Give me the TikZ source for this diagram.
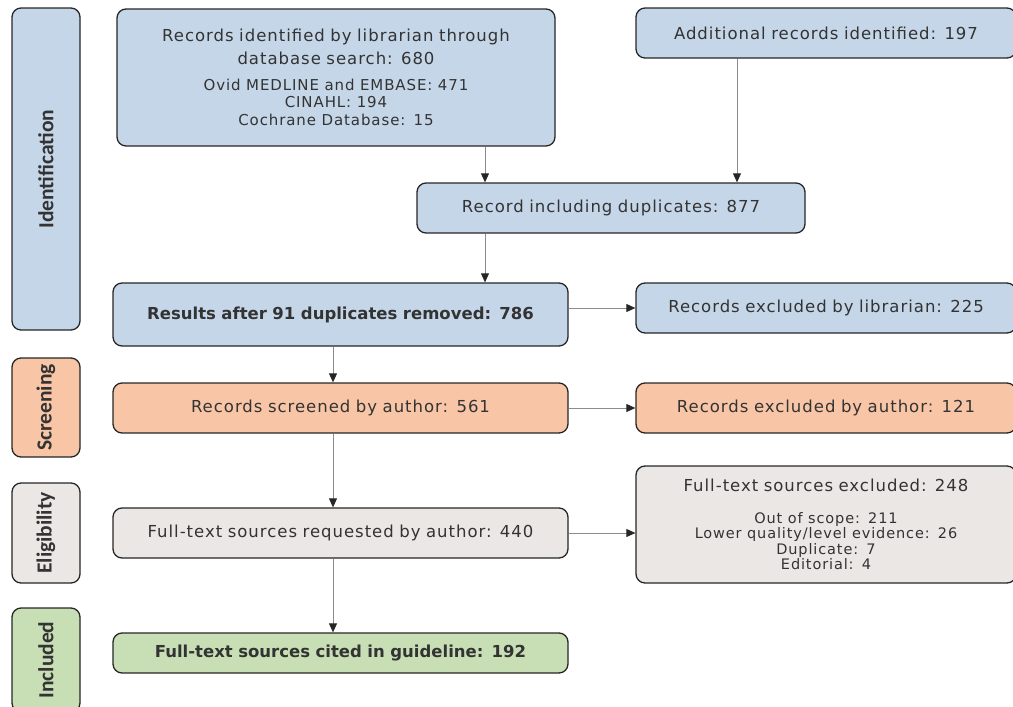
\documentclass[tikz,border=0pt]{standalone}
\usepackage{fontspec}
\setmainfont{DejaVu Sans}[WordSpace=1.5, LetterSpace=6, BoldFeatures={LetterSpace=0}]
\newfontfamily\tabfont{Carlito}
\usetikzlibrary{arrows.meta}
\definecolor{idblue}{HTML}{C5D6E9}
\definecolor{scrorange}{HTML}{F8C6A6}
\definecolor{elggray}{HTML}{EBE7E5}
\definecolor{incgreen}{HTML}{C8DFB5}
\begin{document}
\begin{tikzpicture}[x=1pt,y=-1pt,
    every node/.style={inner sep=0pt, text=black!80},
    box/.style={draw=black!85, line width=1.3pt, rounded corners=9pt, align=center, font=\fontsize{16.5}{23}\selectfont},
    tab/.style={draw=black!85, line width=1.3pt, rounded corners=9pt, rotate=90, minimum height=68pt, font=\tabfont\bfseries\fontsize{21.5}{23}\selectfont},
    flow/.style={draw=black!45, line width=0.8pt, -{Triangle[length=9pt, width=8pt, color=black!85]}}]
    % frame
    \useasboundingbox (0,0) rectangle (1013,707);
    \clip (0,0) rectangle (1013,707);
    % constants
    \def\mainX{340.5}
    \def\sideX{826}
    % phase tabs
    \node [tab, fill=idblue, minimum width=322pt] (ident) at (46,169) {Identification};
    \node [tab, fill=scrorange, minimum width=99pt] (scrn) at (46,407.5) {Screening};
    \node [tab, fill=elggray, minimum width=100pt] (elig) at (46,533) {Eligibility};
    \node [tab, fill=incgreen, minimum width=104pt] (incl) at (46,660) {Included};
    % identification boxes
    \node [box, fill=idblue, text width=438pt, minimum height=137pt] (lib) at (336,77.5)
        {Records identified by librarian through\par database search: 680\par\vspace{8pt}%
         \fontsize{15}{17.5}\selectfont Ovid MEDLINE and EMBASE: 471\par CINAHL: 194\par Cochrane Database: 15\par};
    \node [box, fill=idblue, text width=380pt, minimum height=50pt] (add) at (826,33) {Additional records identified: 197};
    \node [box, fill=idblue, text width=388pt, minimum height=50pt] (dup) at (611,208) {Record including duplicates: 877};
    \node [box, fill=idblue, text width=455pt, minimum height=63pt] (res) at (\mainX,314.5) {\bfseries Results after 91 duplicates removed: 786};
    \node [box, fill=idblue, text width=380pt, minimum height=50pt] (exlib) at (\sideX,308) {Records excluded by librarian: 225};
    % screening boxes
    \node [box, fill=scrorange, text width=455pt, minimum height=50pt] (scr) at (\mainX,408) {Records screened by author: 561};
    \node [box, fill=scrorange, text width=380pt, minimum height=50pt] (exaut) at (\sideX,408) {Records excluded by author: 121};
    % eligibility boxes
    \node [box, fill=elggray, text width=455pt, minimum height=50pt] (req) at (\mainX,533) {Full-text sources requested by author: 440};
    \node [box, fill=elggray, text width=380pt, minimum height=117pt] (exft) at (\sideX,524.5)
        {Full-text sources excluded: 248\par\vspace{16pt}%
         \fontsize{14.5}{15.5}\selectfont Out of scope: 211\par Lower quality/level evidence: 26\par Duplicate: 7\par Editorial: 4\par};
    % included box
    \node [box, fill=incgreen, text width=455pt, minimum height=40pt] (cit) at (\mainX,653) {\bfseries Full-text sources cited in guideline: 192};
    % columns of the arrows
    \coordinate (colA) at (485,0);
    \coordinate (colB) at (737,0);
    \coordinate (colC) at (333,0);
    % arrows
    \draw [flow] (lib.south -| colA) -- (dup.north -| colA);
    \draw [flow] (add.south -| colB) -- (dup.north -| colB);
    \draw [flow] (dup.south -| colA) -- (res.north -| colA);
    \draw [flow] (res.south -| colC) -- (scr.north -| colC);
    \draw [flow] (scr.south -| colC) -- (req.north -| colC);
    \draw [flow] (req.south -| colC) -- (cit.north -| colC);
    \draw [flow] (res.east |- exlib.west) -- (exlib.west);
    \draw [flow] (scr.east) -- (exaut.west);
    \draw [flow] (req.east) -- (req.east -| exft.west);
\end{tikzpicture}
\end{document}
